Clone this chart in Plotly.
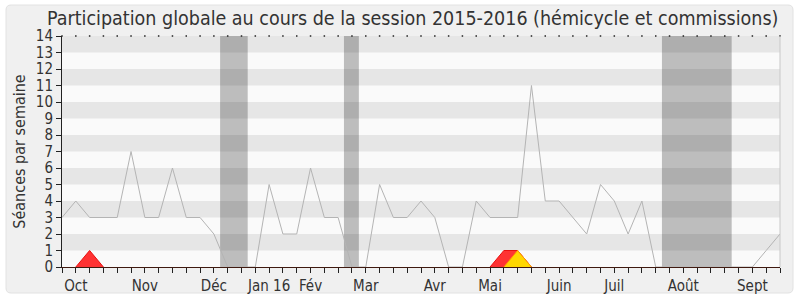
import plotly.graph_objects as go

# ---- data ----
weeks = list(range(53))
seances = [3, 4, 3, 3, 3, 7, 3, 3, 6, 3,
           3, 2, 0, 0, 0, 5, 2, 2, 6, 3,
           3, 0, 0, 5, 3, 3, 4, 3, 0, 0,
           4, 3, 3, 3, 11, 4, 4, 3, 2, 5,
           4, 2, 4, 0, 0, 0, 0, 0, 0, 0,
           0, 1, 2]
red_series = [0] * 53
for k in (2, 32, 33):
    red_series[k] = 1
yellow_series = [0] * 53
yellow_series[33] = 1

month_pos = [1, 6, 11, 15, 18, 22, 27, 31, 36, 40, 45, 50]
month_labels = ["Oct", "Nov", "Déc", "Jan 16", "Fév", "Mar", "Avr", "Mai",
                "Juin", "Juil", "Août", "Sept"]
vacations = [(11.45, 13.45), (20.42, 21.5), (43.45, 48.5)]
y_ticks = list(range(15))

# ---- layout constants ----
W, H = 800, 300
L, R, T, B = 62, 20, 36, 33
PW, PH = W - L - R, H - T - B
FONT = "DejaVu Sans Condensed, DejaVu Sans"


def px2paper_x(px):
    return (px - L) / PW


def px2paper_y(py):
    return (H - B - py) / PH


def edges(xs, ys):
    """x/y of the segments touching a non-zero value (None-separated)."""
    ex, ey = [], []
    for i in range(len(xs) - 1):
        if ys[i] or ys[i + 1]:
            ex += [xs[i], xs[i + 1], None]
            ey += [ys[i], ys[i + 1], None]
    return ex, ey


fig = go.Figure()

fig.add_trace(go.Scatter(x=weeks, y=seances, mode="lines",
                         line=dict(color="#b4b4b4", width=1),
                         hoverinfo="skip", showlegend=False))
for ser, fillc, linec in ((red_series, "#ff3333", "#e81010"),
                          (yellow_series, "#ffd700", "#ff9a00")):
    fig.add_trace(go.Scatter(x=weeks, y=ser, mode="lines", fill="tozeroy",
                             fillcolor=fillc, line=dict(width=0),
                             hoverinfo="skip", showlegend=False))
    ex, ey = edges(weeks, ser)
    fig.add_trace(go.Scatter(x=ex, y=ey, mode="lines", line=dict(color=linec, width=1),
                             hoverinfo="skip", showlegend=False))
fig.add_trace(go.Scatter(x=weeks, y=[14] * len(weeks), mode="markers",
                         marker=dict(color="#222222", size=1.5, symbol="square",
                                     line=dict(width=0)),
                         cliponaxis=False, showlegend=False, hoverinfo="skip"))

shapes = []
x0, x1 = px2paper_x(6), px2paper_x(793)
y0, y1 = px2paper_y(293), px2paper_y(5)
rx, ry = 5 / PW, 5 / PH
path = (f"M {x0+rx},{y1} L {x1-rx},{y1} Q {x1},{y1} {x1},{y1-ry} "
        f"L {x1},{y0+ry} Q {x1},{y0} {x1-rx},{y0} L {x0+rx},{y0} "
        f"Q {x0},{y0} {x0},{y0+ry} L {x0},{y1-ry} Q {x0},{y1} {x0+rx},{y1} Z")
shapes.append(dict(type="path", path=path, xref="paper", yref="paper",
                   fillcolor="#f0f0f0", line=dict(color="#e2e2e2", width=1),
                   layer="below"))
shapes.append(dict(type="rect", xref="paper", yref="paper", x0=0, x1=1, y0=0, y1=1,
                   fillcolor="#fafafa", line=dict(width=0), layer="below"))
for v in range(1, 14, 2):
    shapes.append(dict(type="rect", xref="paper", yref="y", x0=0, x1=1, y0=v, y1=v + 1,
                       fillcolor="#e6e6e6", line=dict(width=0), layer="below"))
for a, b in vacations:
    shapes.append(dict(type="rect", xref="x", yref="paper", x0=a, x1=b, y0=0, y1=1,
                       fillcolor="rgba(0,0,0,0.245)", line=dict(width=0), layer="below"))
shapes.append(dict(type="line", xref="paper", yref="paper", x0=1, x1=1, y0=0, y1=1,
                   line=dict(color="#c8c8c8", width=1)))

fig.update_layout(
    width=W, height=H,
    margin=dict(l=L, r=R, t=T, b=B, pad=0, autoexpand=False),
    paper_bgcolor="white",
    plot_bgcolor="rgba(0,0,0,0)",
    shapes=shapes,
    font=dict(family=FONT, size=15, color="#333333"),
    annotations=[dict(text="Participation globale au cours de la session 2015-2016 (hémicycle et commissions)",
                      xref="paper", yref="paper", x=px2paper_x(412.5), y=px2paper_y(19),
                      xanchor="center", yanchor="middle", showarrow=False,
                      font=dict(family=FONT, size=19.5, color="#333333"))],
)
fig.update_xaxes(range=[0, 52], tickmode="array", tickvals=month_pos, ticktext=month_labels,
                 ticks="outside", ticklen=5, tickcolor="#222222", showgrid=False,
                 zeroline=False, showline=True, linecolor="#401a10", linewidth=1,
                 automargin=False,
                 tickfont=dict(family=FONT, size=15, color="#333333"),
                 minor=dict(tickmode="linear", tick0=0, dtick=1, ticks="outside",
                            ticklen=5, tickcolor="#222222", showgrid=False),
                 fixedrange=True)
fig.update_yaxes(range=[0, 14], tickmode="array", tickvals=y_ticks,
                 ticks="outside", ticklen=5, tickcolor="#222222", showgrid=False,
                 zeroline=False, showline=True, linecolor="#222222", linewidth=1,
                 automargin=False,
                 tickfont=dict(family=FONT, size=15, color="#333333"),
                 title=dict(text="Séances par semaine", standoff=6,
                            font=dict(family=FONT, size=16, color="#333333")),
                 fixedrange=True)

fig.write_html("out.html")
